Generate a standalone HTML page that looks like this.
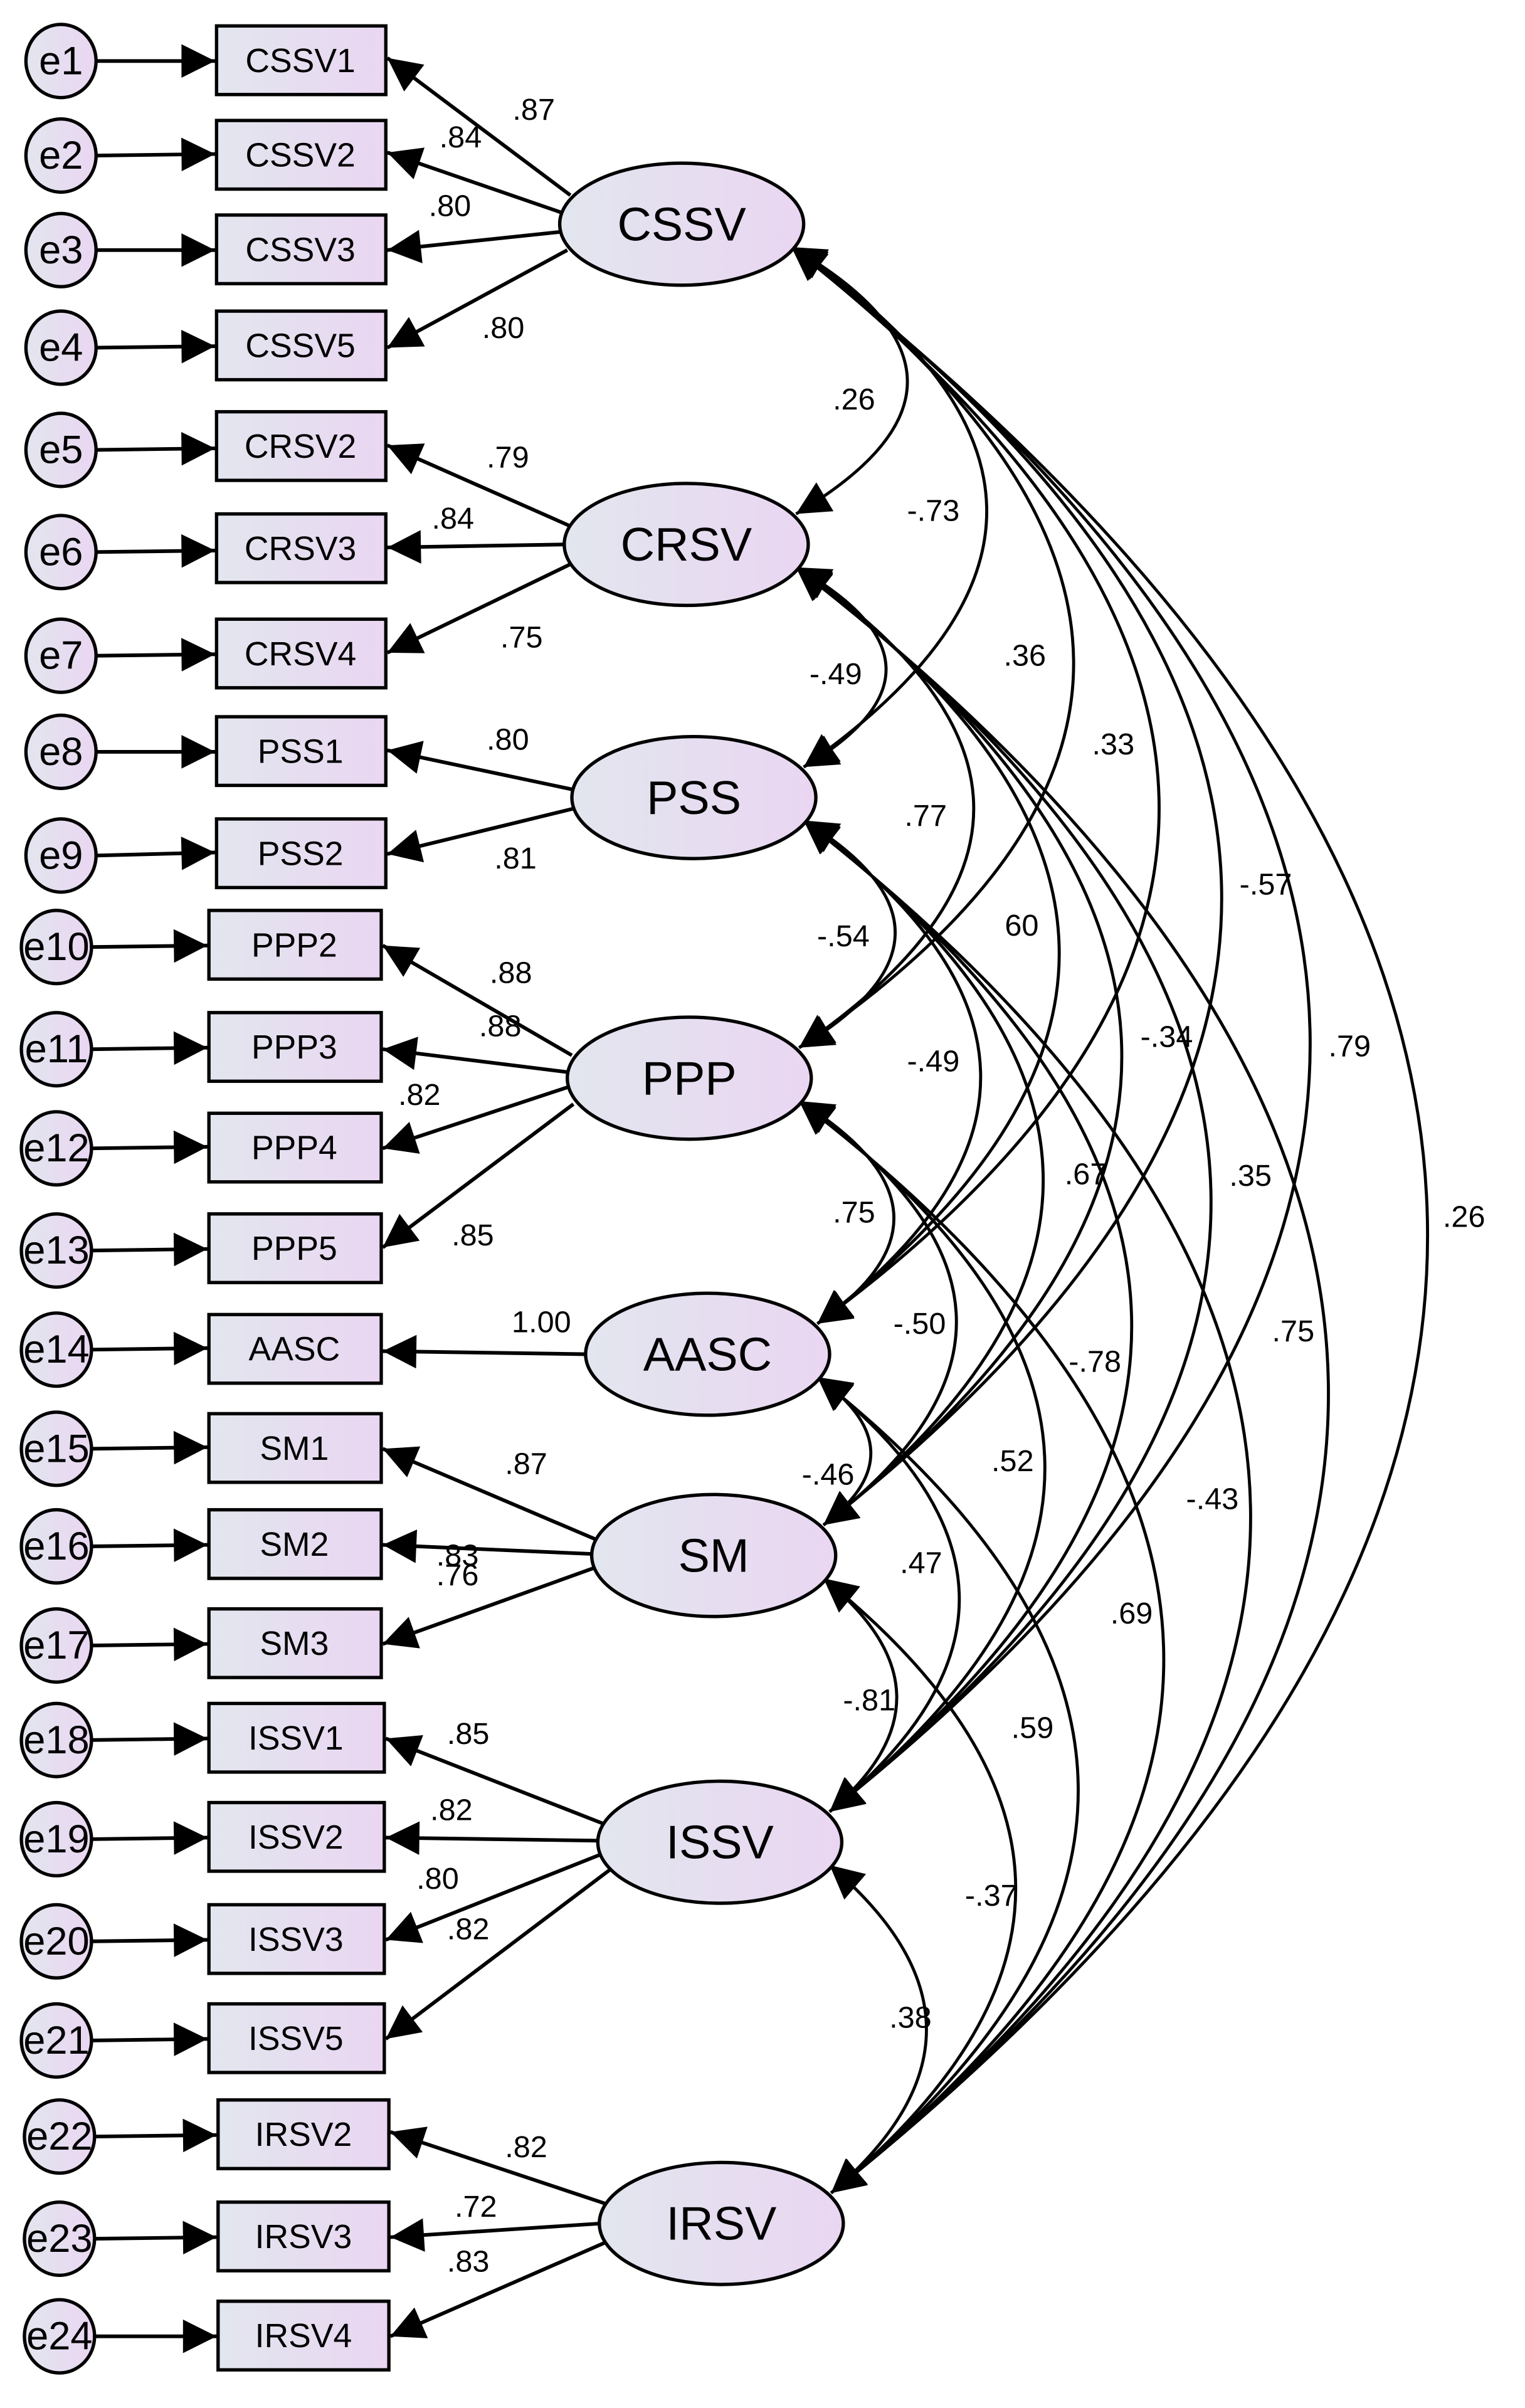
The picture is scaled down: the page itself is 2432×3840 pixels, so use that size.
<!DOCTYPE html>
<html><head><meta charset="utf-8"><style>
html,body{margin:0;padding:0;background:#fff}
svg{display:block}
text{font-family:"Liberation Sans",Arial,sans-serif;fill:#000}
</style></head><body>
<svg width="2432" height="3840" viewBox="0 0 1000 1579" preserveAspectRatio="none" xmlns="http://www.w3.org/2000/svg">
<defs>
<linearGradient id="g" x1="0" x2="1" y1="0" y2="0"><stop offset="0" stop-color="#e2e6ee"/><stop offset="1" stop-color="#ead6f2"/></linearGradient>
<marker id="a" viewBox="0 0 10 10" refX="10" refY="5" markerWidth="26" markerHeight="22" markerUnits="userSpaceOnUse" orient="auto-start-reverse"><path d="M0,0 L10,5 L0,10 z" fill="#000"/></marker>
</defs>
<g id="cov" fill="none" stroke="#000" stroke-width="2" marker-start="url(#a)" marker-end="url(#a)">
<path d="M519,162 Q669.5,249.5 522,337"/>
<path d="M519,162 Q771,332.5 527,503"/>
<path d="M519,162 Q886.5,442 524,687"/>
<path d="M519,162 Q992.5,532.5 536,868"/>
<path d="M519,162 Q1072.5,581 540,1000"/>
<path d="M519,162 Q1186.5,675 544,1188"/>
<path d="M519,162 Q1340,800 545,1438"/>
<path d="M522,372 Q637.5,437.5 527,503"/>
<path d="M522,372 Q754,529.5 524,687"/>
<path d="M522,372 Q860,620 536,868"/>
<path d="M522,372 Q940,686 540,1000"/>
<path d="M522,372 Q1055,780 544,1188"/>
<path d="M522,372 Q1208.5,905 545,1438"/>
<path d="M527,538 Q648.5,612.5 524,687"/>
<path d="M527,538 Q754.5,703 536,868"/>
<path d="M527,538 Q834.5,769 540,1000"/>
<path d="M527,538 Q948.5,863 544,1188"/>
<path d="M527,538 Q1104,988 545,1438"/>
<path d="M524,722 Q642,795 536,868"/>
<path d="M524,722 Q722,861 540,1000"/>
<path d="M524,722 Q836,955 544,1188"/>
<path d="M524,722 Q991.5,1080 545,1438"/>
<path d="M536,903 Q604,951.5 540,1000"/>
<path d="M536,903 Q718,1045.5 544,1188"/>
<path d="M536,903 Q873.5,1170.5 545,1438"/>
<path d="M540,1035 Q634,1111.5 544,1188"/>
<path d="M540,1035 Q789.5,1236.5 545,1438"/>
<path d="M544,1223 Q670.5,1330.5 545,1438"/>
</g>
<g font-size="20" text-anchor="middle" dominant-baseline="central">
<text x="560" y="262">.26</text><text x="612" y="335">-.73</text><text x="672" y="430">.36</text><text x="730" y="488">.33</text><text x="830" y="580">-.57</text><text x="885" y="686">.79</text><text x="960" y="798">.26</text>
<text x="548" y="442">-.49</text><text x="607" y="535">.77</text><text x="670" y="607">60</text><text x="765" y="680">-.34</text><text x="820" y="771">.35</text><text x="848" y="873">.75</text>
<text x="553" y="614">-.54</text><text x="612" y="696">-.49</text><text x="712" y="770">.67</text><text x="718" y="893">-.78</text><text x="795" y="983">-.43</text>
<text x="560" y="795">.75</text><text x="603" y="868">-.50</text><text x="664" y="958">.52</text><text x="742" y="1058">.69</text>
<text x="543" y="967">-.46</text><text x="604" y="1025">.47</text><text x="677" y="1133">.59</text>
<text x="570" y="1115">-.81</text><text x="650" y="1243">-.37</text><text x="597" y="1323">.38</text>
</g>
<g id="load" stroke="#000" stroke-width="2.4" marker-end="url(#a)">
<line x1="374" y1="128" x2="254" y2="38"/><line x1="370" y1="140" x2="254" y2="100"/><line x1="368" y1="152" x2="254" y2="164"/><line x1="372" y1="164" x2="254" y2="228"/>
<line x1="374" y1="345" x2="254" y2="292"/><line x1="371" y1="357" x2="254" y2="359"/><line x1="374" y1="370" x2="254" y2="428"/>
<line x1="377" y1="518" x2="254" y2="492"/><line x1="377" y1="530" x2="254" y2="560"/>
<line x1="375" y1="692" x2="251" y2="620"/><line x1="372" y1="703" x2="251" y2="688"/><line x1="372" y1="713" x2="251" y2="753"/><line x1="376" y1="724" x2="251" y2="818"/>
<line x1="385" y1="888" x2="251" y2="886"/>
<line x1="392" y1="1010" x2="251" y2="950"/><line x1="389" y1="1019" x2="251" y2="1013"/><line x1="390" y1="1028" x2="251" y2="1078"/>
<line x1="396" y1="1196" x2="253" y2="1140"/><line x1="393" y1="1207" x2="253" y2="1205"/><line x1="394" y1="1216" x2="253" y2="1272"/><line x1="400" y1="1226" x2="253" y2="1337"/>
<line x1="397" y1="1445" x2="256" y2="1398"/><line x1="394" y1="1458" x2="256" y2="1467"/><line x1="398" y1="1470" x2="256" y2="1532"/>
</g>
<g font-size="20" text-anchor="middle" dominant-baseline="central">
<text x="350" y="72">.87</text><text x="302" y="90">.84</text><text x="295" y="135">.80</text><text x="330" y="215">.80</text>
<text x="333" y="300">.79</text><text x="297" y="340">.84</text><text x="342" y="418">.75</text>
<text x="333" y="485">.80</text><text x="338" y="563">.81</text>
<text x="335" y="638">.88</text><text x="328" y="673">.88</text><text x="275" y="718">.82</text><text x="310" y="810">.85</text>
<text x="355" y="867">1.00</text>
<text x="345" y="960">.87</text><text x="300" y="1020">.83</text><text x="300" y="1033">.76</text>
<text x="307" y="1137">.85</text><text x="296" y="1187">.82</text><text x="287" y="1232">.80</text><text x="307" y="1265">.82</text>
<text x="345" y="1408">.82</text><text x="312" y="1447">.72</text><text x="307" y="1483">.83</text>
</g>
<g stroke="#000" stroke-width="2.4" marker-end="url(#a)">
<line x1="63" y1="40" x2="141" y2="40"/><line x1="63" y1="102" x2="141" y2="101"/><line x1="63" y1="164" x2="141" y2="164"/><line x1="63" y1="228" x2="141" y2="227"/>
<line x1="63" y1="295" x2="141" y2="294"/><line x1="63" y1="362" x2="141" y2="361"/><line x1="63" y1="430" x2="141" y2="429"/><line x1="63" y1="493" x2="141" y2="493"/>
<line x1="63" y1="561" x2="141" y2="559"/><line x1="60" y1="621" x2="136" y2="620"/><line x1="60" y1="688" x2="136" y2="687"/><line x1="60" y1="753" x2="136" y2="752"/>
<line x1="60" y1="820" x2="136" y2="819"/><line x1="60" y1="885" x2="136" y2="884"/><line x1="60" y1="950" x2="136" y2="949"/><line x1="60" y1="1014" x2="136" y2="1013"/>
<line x1="60" y1="1079" x2="136" y2="1078"/><line x1="60" y1="1141" x2="136" y2="1140"/><line x1="60" y1="1206" x2="136" y2="1205"/><line x1="60" y1="1273" x2="136" y2="1272"/>
<line x1="60" y1="1338" x2="136" y2="1337"/><line x1="62" y1="1401" x2="142" y2="1400"/><line x1="62" y1="1468" x2="142" y2="1467"/><line x1="62" y1="1532" x2="142" y2="1532"/>
</g>
<g fill="url(#g)" stroke="#000" stroke-width="2.2">
<rect x="142" y="17" width="111" height="45"/><rect x="142" y="79" width="111" height="45"/><rect x="142" y="141" width="111" height="45"/><rect x="142" y="204" width="111" height="45"/>
<rect x="142" y="270" width="111" height="45"/><rect x="142" y="337" width="111" height="45"/><rect x="142" y="406" width="111" height="45"/>
<rect x="142" y="470" width="111" height="45"/><rect x="142" y="537" width="111" height="45"/>
<rect x="137" y="597" width="113" height="45"/><rect x="137" y="664" width="113" height="45"/><rect x="137" y="730" width="113" height="45"/><rect x="137" y="796" width="113" height="45"/>
<rect x="137" y="862" width="113" height="45"/>
<rect x="137" y="927" width="113" height="45"/><rect x="137" y="990" width="113" height="45"/><rect x="137" y="1055" width="113" height="45"/>
<rect x="137" y="1117" width="115" height="45"/><rect x="137" y="1182" width="115" height="45"/><rect x="137" y="1249" width="115" height="45"/><rect x="137" y="1314" width="115" height="45"/>
<rect x="143" y="1377" width="112" height="45"/><rect x="143" y="1444" width="112" height="45"/><rect x="143" y="1509" width="112" height="45"/>
</g>
<g font-size="22" text-anchor="middle" dominant-baseline="central">
<text x="197" y="40">CSSV1</text><text x="197" y="102">CSSV2</text><text x="197" y="164">CSSV3</text><text x="197" y="227">CSSV5</text>
<text x="197" y="293">CRSV2</text><text x="197" y="360">CRSV3</text><text x="197" y="429">CRSV4</text>
<text x="197" y="493">PSS1</text><text x="197" y="560">PSS2</text>
<text x="193" y="620">PPP2</text><text x="193" y="687">PPP3</text><text x="193" y="753">PPP4</text><text x="193" y="819">PPP5</text>
<text x="193" y="885">AASC</text>
<text x="193" y="950">SM1</text><text x="193" y="1013">SM2</text><text x="193" y="1078">SM3</text>
<text x="194" y="1140">ISSV1</text><text x="194" y="1205">ISSV2</text><text x="194" y="1272">ISSV3</text><text x="194" y="1337">ISSV5</text>
<text x="199" y="1400">IRSV2</text><text x="199" y="1467">IRSV3</text><text x="199" y="1532">IRSV4</text>
</g>
<g fill="url(#g)" stroke="#000" stroke-width="2.2">
<ellipse cx="40" cy="40" rx="23" ry="24"/><ellipse cx="40" cy="102" rx="23" ry="24"/><ellipse cx="40" cy="164" rx="23" ry="24"/><ellipse cx="40" cy="228" rx="23" ry="24"/>
<ellipse cx="40" cy="295" rx="23" ry="24"/><ellipse cx="40" cy="362" rx="23" ry="24"/><ellipse cx="40" cy="430" rx="23" ry="24"/><ellipse cx="40" cy="493" rx="23" ry="24"/>
<ellipse cx="40" cy="561" rx="23" ry="24"/><ellipse cx="37" cy="621" rx="23" ry="24"/><ellipse cx="37" cy="688" rx="23" ry="24"/><ellipse cx="37" cy="753" rx="23" ry="24"/>
<ellipse cx="37" cy="820" rx="23" ry="24"/><ellipse cx="37" cy="885" rx="23" ry="24"/><ellipse cx="37" cy="950" rx="23" ry="24"/><ellipse cx="37" cy="1014" rx="23" ry="24"/>
<ellipse cx="37" cy="1079" rx="23" ry="24"/><ellipse cx="37" cy="1141" rx="23" ry="24"/><ellipse cx="37" cy="1206" rx="23" ry="24"/><ellipse cx="37" cy="1273" rx="23" ry="24"/>
<ellipse cx="37" cy="1338" rx="23" ry="24"/><ellipse cx="39" cy="1401" rx="23" ry="24"/><ellipse cx="39" cy="1468" rx="23" ry="24"/><ellipse cx="39" cy="1532" rx="23" ry="24"/>
</g>
<g font-size="26" text-anchor="middle" dominant-baseline="central">
<text x="40" y="40">e1</text><text x="40" y="102">e2</text><text x="40" y="164">e3</text><text x="40" y="228">e4</text>
<text x="40" y="295">e5</text><text x="40" y="362">e6</text><text x="40" y="430">e7</text><text x="40" y="493">e8</text>
<text x="40" y="561">e9</text><text x="37" y="621">e10</text><text x="37" y="688">e11</text><text x="37" y="753">e12</text>
<text x="37" y="820">e13</text><text x="37" y="885">e14</text><text x="37" y="950">e15</text><text x="37" y="1014">e16</text>
<text x="37" y="1079">e17</text><text x="37" y="1141">e18</text><text x="37" y="1206">e19</text><text x="37" y="1273">e20</text>
<text x="37" y="1338">e21</text><text x="39" y="1401">e22</text><text x="39" y="1468">e23</text><text x="39" y="1532">e24</text>
</g>
<g fill="url(#g)" stroke="#000" stroke-width="2.2">
<ellipse cx="447" cy="147" rx="80" ry="40"/><ellipse cx="450" cy="357" rx="80" ry="40"/><ellipse cx="455" cy="523" rx="80" ry="40"/><ellipse cx="452" cy="707" rx="80" ry="40"/>
<ellipse cx="464" cy="888" rx="80" ry="40"/><ellipse cx="468" cy="1020" rx="80" ry="40"/><ellipse cx="472" cy="1208" rx="80" ry="40"/><ellipse cx="473" cy="1458" rx="80" ry="40"/>
</g>
<g font-size="31" text-anchor="middle" dominant-baseline="central">
<text x="447" y="147">CSSV</text><text x="450" y="357">CRSV</text><text x="455" y="523">PSS</text><text x="452" y="707">PPP</text>
<text x="464" y="888">AASC</text><text x="468" y="1020">SM</text><text x="472" y="1208">ISSV</text><text x="473" y="1458">IRSV</text>
</g>
</svg>
</body></html>
